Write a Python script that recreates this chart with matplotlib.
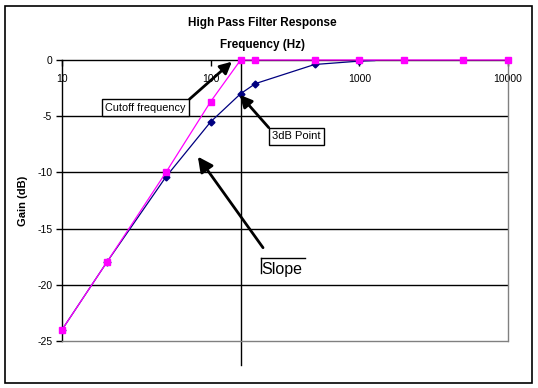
import matplotlib
matplotlib.use('Agg')
import matplotlib.pyplot as plt
from matplotlib.ticker import NullLocator, FixedLocator
from matplotlib.patches import Rectangle

plt.rcParams['font.family'] = ['Liberation Sans', 'DejaVu Sans']

# data
freq_ideal = [10, 20, 50, 100, 159, 200, 500, 1000, 2000, 5000, 10000]
gain_ideal = [-24, -18, -10, -3.7, 0, 0, 0, 0, 0, 0, 0]

freq_real = [10, 20, 50, 100, 159, 200, 500, 1000, 1270]
gain_real = [-24, -18, -10.4, -5.5, -3.0, -2.1, -0.4, -0.1, -0.05]

cutoff = 159
x_ticks = [10, 100, 1000, 10000]
y_ticks = [0, -5, -10, -15, -20, -25]

fig = plt.figure(figsize=(5.38, 3.88), dpi=100)
ax = fig.add_axes([62/538, 1-341/388, 446/538, 281/388])

ax.set_xscale('log')
ax.set_xlim(10, 10000)
ax.set_ylim(-25, 0)

# horizontal gridlines
for y in y_ticks[1:-1]:
    ax.axhline(y, color='black', lw=1, zorder=1)

ax.plot(freq_real, gain_real, color='#000080', lw=0.9, marker='D', ms=3.5,
        markevery=list(range(len(freq_real) - 1)), zorder=3)
ax.plot(freq_ideal, gain_ideal, color='#FF00FF', lw=0.9, marker='s', ms=5, zorder=4,
        clip_on=False)

# cutoff line running a little past the plot area
ax.plot([cutoff, cutoff], [1, -0.085], color='black', lw=1,
        transform=ax.get_xaxis_transform(), clip_on=False, zorder=2)

# spines
for s in ['left', 'top']:
    ax.spines[s].set_color('black')
    ax.spines[s].set_linewidth(1)
for s in ['right', 'bottom']:
    ax.spines[s].set_color('#808080')
    ax.spines[s].set_linestyle((0, (1, 1)))
    ax.spines[s].set_linewidth(1)

ax.xaxis.set_major_locator(FixedLocator(x_ticks))
ax.xaxis.set_minor_locator(NullLocator())
ax.set_xticklabels([str(t) for t in x_ticks])
ax.tick_params(axis='x', top=True, bottom=False, labeltop=True, labelbottom=False,
               direction='in', length=4, pad=-17, labelsize=7.5, width=1)
ax.set_yticks(y_ticks)
ax.set_yticklabels([str(t) for t in y_ticks])
ax.tick_params(axis='y', direction='out', length=4, pad=3, labelsize=7.5, width=1)

# annotations
arrow = dict(arrowstyle='-|>,head_length=0.9,head_width=0.45', color='black', lw=2,
             shrinkA=0, shrinkB=0)
box = dict(boxstyle='square,pad=0.3', fc='white', ec='black', lw=1)

a = dict(arrow)
a['relpos'] = (1, 1)
ax.annotate('Cutoff frequency', xy=(139, -0.15), xytext=(36.4, -4.23),
            ha='center', va='center', fontsize=7.8, bbox=box, arrowprops=a, zorder=6)

b = dict(arrow)
b['relpos'] = (0, 1)
ax.annotate('3dB Point', xy=(157, -3.1), xytext=(377, -6.8),
            ha='center', va='center', fontsize=8, bbox=box, arrowprops=b, zorder=6)

ax.annotate('', xy=(82, -8.6), xytext=(225, -16.7), arrowprops=arrow, zorder=6)
ax.text(218, -18.6, 'Slope', ha='left', va='center', fontsize=11.5, zorder=6)
ax.plot([218, 431], [-17.6, -17.6], color='black', lw=1, zorder=6)
ax.plot([218, 218], [-17.6, -18.95], color='black', lw=1, zorder=6)

fig.text(0.487, 1-23/388, 'High Pass Filter Response', ha='center', va='center',
         fontsize=8.5, fontweight='bold')
fig.text(0.487, 1-45/388, 'Frequency (Hz)', ha='center', va='center',
         fontsize=8.5, fontweight='bold')
fig.text(23/538, 1-201/388, 'Gain (dB)', ha='center', va='center', rotation=90,
         fontsize=8, fontweight='bold')

fig.patches.append(Rectangle((5/538, 5/388), 527/538, 377/388, transform=fig.transFigure,
                             fill=False, ec='black', lw=1.2))

fig.savefig('out.png', dpi=100)
